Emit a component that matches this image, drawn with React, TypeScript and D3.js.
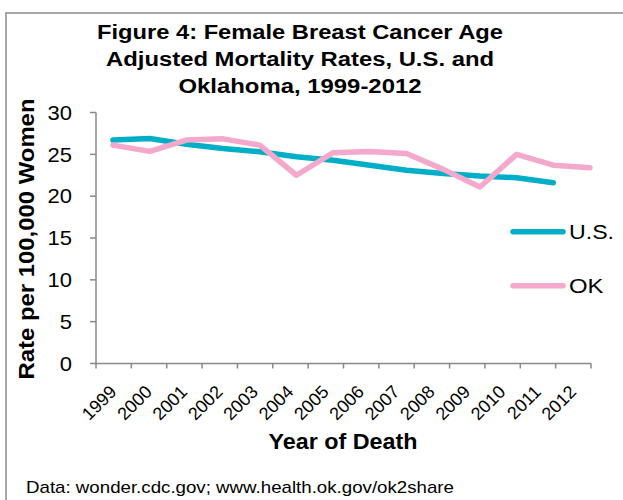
import React from "react";
import * as d3 from "d3";

const years = ["1999","2000","2001","2002","2003","2004","2005","2006","2007","2008","2009","2010","2011","2012"];
const usRates = [26.7, 26.9, 26.2, 25.7, 25.3, 24.7, 24.3, 23.7, 23.1, 22.7, 22.4, 22.2, 21.6];
const okRates = [26.1, 25.35, 26.7, 26.85, 26.1, 22.5, 25.2, 25.35, 25.1, 23.2, 21.1, 25.0, 23.7, 23.4];
const yTicks = [0, 5, 10, 15, 20, 25, 30];
const titleLines = ["Figure 4: Female Breast Cancer Age", "Adjusted Mortality Rates, U.S. and", "Oklahoma, 1999-2012"];
const seriesNames = ["U.S.", "OK"];
const footerText = "Data: wonder.cdc.gov; www.health.ok.gov/ok2share";

const W = 623, H = 500;
const plotLeft = 96, plotRight = 591, plotTop = 112.5, plotBottom = 363.5;
const TEAL = "#00AEC7";
const PINK = "#F4A8CB";
const AXIS = "#898989";
const FONT = "Liberation Sans, Arial, sans-serif";

export default function App() {
  const y = d3.scaleLinear().domain([0, 30]).range([plotBottom, plotTop]);
  const band = d3.scaleBand().domain(years).range([plotLeft, plotRight]).padding(0);
  const pt = d3.scalePoint().domain(years).range([113, 590]).padding(0);

  const line = d3.line<number>().x((_, i) => pt(years[i]) as number).y((v) => y(v));

  const tickEdges = years.map((yr) => band(yr) as number).concat([plotRight]);

  const titleLens = [406, 388, 243];
  const titleBase = [39, 66, 93];

  return (
    <svg width={W} height={H} style={{ position: "absolute", left: 0, top: 0, background: "#fff" }} fontFamily={FONT}>
      <rect x={0} y={0} width={W} height={H} fill="#fff" />
      <rect x={6} y={13} width={700} height={600} fill="none" stroke="#8a8a8a" strokeWidth={1.5} />

      {titleLines.map((t, i) => (
        <text key={i} x={300} y={titleBase[i]} textAnchor="middle" fontWeight="bold" fontSize={20}
          textLength={titleLens[i]} lengthAdjust="spacingAndGlyphs" fill="#000">{t}</text>
      ))}

      {/* y axis */}
      <line x1={plotLeft} x2={plotLeft} y1={plotTop} y2={plotBottom} stroke={AXIS} strokeWidth={1.5} />
      {yTicks.map((v) => (
        <g key={v}>
          <line x1={plotLeft - 6} x2={plotLeft} y1={y(v)} y2={y(v)} stroke={AXIS} strokeWidth={1.5} />
          <text x={72} y={y(v)} dy="0.36em" textAnchor="end" fontSize={20} fill="#000"
            transform={`translate(72,0) scale(1.1,1) translate(-72,0)`}>{v}</text>
        </g>
      ))}

      {/* x axis */}
      <line x1={plotLeft} x2={plotRight} y1={plotBottom} y2={plotBottom} stroke={AXIS} strokeWidth={1.5} />
      {tickEdges.map((x, i) => (
        <line key={i} x1={x} x2={x} y1={plotBottom} y2={plotBottom + 5} stroke={AXIS} strokeWidth={1.5} />
      ))}
      {years.map((yr) => {
        const cx = (band(yr) as number) + band.bandwidth() / 2 + 4;
        const cy = 393;
        return (
          <text key={yr} x={0} y={0} textAnchor="end" fontSize={18} fill="#000"
            transform={`translate(${cx},${cy}) rotate(-45)`}>{yr}</text>
        );
      })}

      {/* axis titles */}
      <text x={0} y={0} transform={`translate(34,239) rotate(-90)`} textAnchor="middle" fontWeight="bold"
        fontSize={22} textLength={281} lengthAdjust="spacingAndGlyphs" fill="#000">Rate per 100,000 Women</text>
      <text x={343} y={449} textAnchor="middle" fontWeight="bold" fontSize={22}
        textLength={149} lengthAdjust="spacingAndGlyphs" fill="#000">Year of Death</text>

      {/* lines */}
      <path d={line(usRates) as string} fill="none" stroke={TEAL} strokeWidth={5.5} strokeLinejoin="round" strokeLinecap="round" />
      <path d={line(okRates) as string} fill="none" stroke={PINK} strokeWidth={5.5} strokeLinejoin="round" strokeLinecap="round" />

      {/* legend */}
      {seriesNames.map((name, i) => {
        const ly = 231.7 + i * 54;
        return (
          <g key={name}>
            <line x1={513} x2={563} y1={ly} y2={ly} stroke={i === 0 ? TEAL : PINK} strokeWidth={5.5} strokeLinecap="round" />
            <text x={569} y={ly + 7.7} fontSize={20} textLength={i === 0 ? 45 : 34.5} lengthAdjust="spacingAndGlyphs" fill="#000">{name}</text>
          </g>
        );
      })}

      {/* footer */}
      <text x={26} y={493} fontSize={17} textLength={428} lengthAdjust="spacingAndGlyphs" fill="#000">{footerText}</text>
    </svg>
  );
}
